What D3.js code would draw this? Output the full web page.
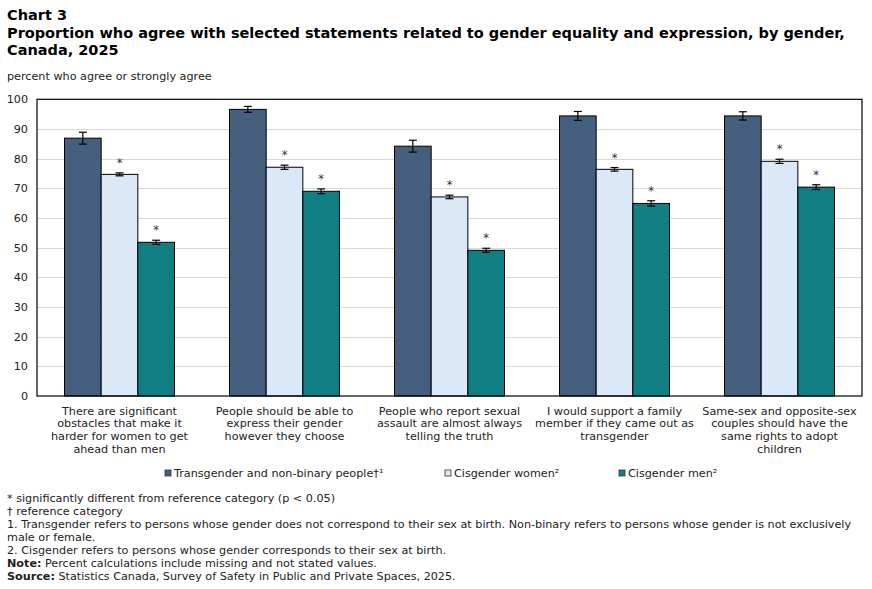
<!DOCTYPE html>
<html>
<head>
<meta charset="utf-8">
<script src="https://cdn.jsdelivr.net/npm/d3@7"></script>
<style>
  body { margin: 0; background: #fff; }
  svg text { font-family: "DejaVu Sans", Verdana, sans-serif; fill: #222; }
</style>
</head>
<body>
<div id="chart"></div>
<script>
// --- Data ---
const categories = [
  ["There are significant", "obstacles that make it", "harder for women to get", "ahead than men"],
  ["People should be able to", "express their gender", "however they choose"],
  ["People who report sexual", "assault are almost always", "telling the truth"],
  ["I would support a family", "member if they came out as", "transgender"],
  ["Same-sex and opposite-sex", "couples should have the", "same rights to adopt", "children"]
];
const series = ["Transgender and non-binary people†¹", "Cisgender women²", "Cisgender men²"];
const colors = ["#465f7f", "#dae8f7", "#0f7f84"];

const transValues = [86.9, 96.6, 84.2, 94.4, 94.4];
const transErr    = [2.0, 1.0, 2.0, 1.5, 1.4];
const womenValues = [74.7, 77.1, 67.1, 76.4, 79.1];
const womenErr    = [0.5, 0.7, 0.6, 0.6, 0.7];
const menValues   = [51.8, 69.0, 49.1, 64.9, 70.4];
const menErr      = [0.7, 0.8, 0.7, 0.9, 0.8];
// significantly different from reference (asterisk)
const womenSig = [true, true, true, true, true];
const menSig   = [true, true, true, true, true];

const yTicks = [0, 10, 20, 30, 40, 50, 60, 70, 80, 90, 100];

const footnotes = [
  { bold: "", text: "* significantly different from reference category (p < 0.05)" },
  { bold: "", text: "† reference category" },
  { bold: "", text: "1. Transgender refers to persons whose gender does not correspond to their sex at birth. Non-binary refers to persons whose gender is not exclusively" },
  { bold: "", text: "male or female." },
  { bold: "", text: "2. Cisgender refers to persons whose gender corresponds to their sex at birth." },
  { bold: "Note:", text: " Percent calculations include missing and not stated values." },
  { bold: "Source:", text: " Statistics Canada, Survey of Safety in Public and Private Spaces, 2025." }
];

const rows = [];
categories.forEach((c, i) => {
  rows.push({ cat: i, s: 0, v: transValues[i], e: transErr[i], sig: false });
  rows.push({ cat: i, s: 1, v: womenValues[i], e: womenErr[i], sig: womenSig[i] });
  rows.push({ cat: i, s: 2, v: menValues[i], e: menErr[i], sig: menSig[i] });
});

// --- Layout ---
const W = 872, H = 589;
const plot = { left: 37, right: 862, top: 99.3, bottom: 396 };
const fs = "11.2px";

const svg = d3.select("#chart").append("svg")
  .attr("width", W).attr("height", H);

// titles
const title = svg.append("text").attr("x", 7).attr("font-weight", "bold").attr("font-size", "14.5px").style("fill", "#000");
["Chart 3",
 "Proportion who agree with selected statements related to gender equality and expression, by gender,",
 "Canada, 2025"].forEach((t, i) => {
  title.append("tspan").attr("x", 7).attr("y", 20 + i * 17.5).text(t);
});

svg.append("text").attr("x", 7).attr("y", 80).attr("font-size", fs)
  .text("percent who agree or strongly agree");

// scales
const x = d3.scaleBand().domain(d3.range(categories.length))
  .range([plot.left, plot.right]).paddingInner(1 / 3).paddingOuter(1 / 6);
const xs = d3.scaleBand().domain([0, 1, 2]).range([0, x.bandwidth()]);
const y = d3.scaleLinear().domain([0, 100]).range([plot.bottom, plot.top]);

// gridlines
svg.append("g").selectAll("line").data(yTicks.filter(d => d > 0 && d < 100)).join("line")
  .attr("x1", plot.left).attr("x2", plot.right)
  .attr("y1", d => Math.round(y(d)) + 0.5).attr("y2", d => Math.round(y(d)) + 0.5)
  .attr("stroke", "#d9d9d9").attr("stroke-width", 1);

// y axis labels
const yAxis = svg.append("g").attr("transform", `translate(${plot.left},0)`)
  .call(d3.axisLeft(y).tickValues(yTicks).tickSize(0).tickPadding(9));
yAxis.select(".domain").remove();
yAxis.selectAll("text").attr("font-size", fs).attr("font-family", "DejaVu Sans, sans-serif").style("fill", "#222");

// bars
svg.append("g").selectAll("rect").data(rows).join("rect")
  .attr("x", d => x(d.cat) + xs(d.s))
  .attr("y", d => y(d.v))
  .attr("width", xs.bandwidth())
  .attr("height", d => y(0) - y(d.v))
  .attr("fill", d => colors[d.s])
  .attr("stroke", "#000").attr("stroke-width", 1);

// error bars
const eb = svg.append("g").attr("stroke", "#000").attr("stroke-width", 1.2);
rows.forEach(d => {
  const cx = x(d.cat) + xs(d.s) + xs.bandwidth() / 2;
  eb.append("line").attr("x1", cx).attr("x2", cx).attr("y1", y(d.v + d.e)).attr("y2", y(d.v - d.e));
  eb.append("line").attr("x1", cx - 4).attr("x2", cx + 4).attr("y1", y(d.v + d.e)).attr("y2", y(d.v + d.e));
  eb.append("line").attr("x1", cx - 4).attr("x2", cx + 4).attr("y1", y(d.v - d.e)).attr("y2", y(d.v - d.e));
});

// asterisks
svg.append("g").selectAll("text").data(rows.filter(d => d.sig)).join("text")
  .attr("x", d => x(d.cat) + xs(d.s) + xs.bandwidth() / 2)
  .attr("y", d => y(d.v + d.e) - 6)
  .attr("text-anchor", "middle").attr("font-size", "11.5px").style("fill", "#333")
  .text("*");

// plot frame
svg.append("rect").attr("x", plot.left).attr("y", plot.top)
  .attr("width", plot.right - plot.left).attr("height", plot.bottom - plot.top)
  .attr("fill", "none").attr("stroke", "#000").attr("stroke-width", 1.2);

// category labels
categories.forEach((lines, i) => {
  const t = svg.append("text").attr("text-anchor", "middle").attr("font-size", fs);
  lines.forEach((l, j) => {
    t.append("tspan").attr("x", x(i) + x.bandwidth() / 2).attr("y", 414.5 + j * 12.9).text(l);
  });
});

// legend
const legendX = [165, 445, 619];
const lg = svg.append("g").selectAll("g").data(series).join("g")
  .attr("transform", (d, i) => `translate(${legendX[i]},470)`);
lg.append("rect").attr("width", 6).attr("height", 6)
  .attr("fill", (d, i) => colors[i]).attr("stroke", "#333").attr("stroke-width", 0.8);
lg.append("text").attr("x", 9).attr("y", 6.5).attr("font-size", fs).text(d => d);

// footnotes
footnotes.forEach((f, i) => {
  const t = svg.append("text").attr("x", 7).attr("y", 502 + i * 13).attr("font-size", "11.2px");
  if (f.bold) t.append("tspan").attr("font-weight", "bold").text(f.bold);
  t.append("tspan").text(f.text);
});
</script>
</body>
</html>
